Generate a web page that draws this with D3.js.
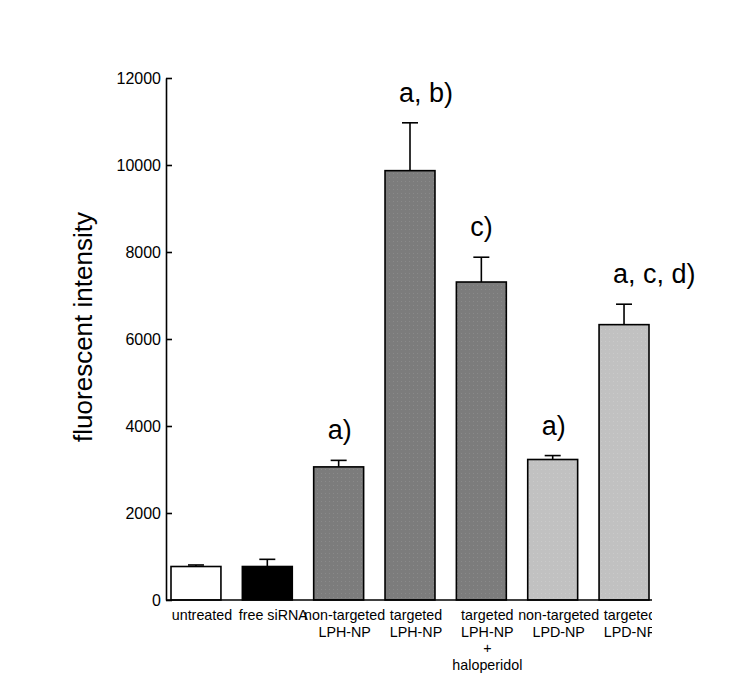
<!DOCTYPE html>
<html>
<head>
<meta charset="utf-8">
<script src="https://cdn.jsdelivr.net/npm/d3@7"></script>
<style>
  html, body { margin: 0; padding: 0; background: #fff; }
  svg { display: block; font-family: Arial, "Liberation Sans", Helvetica, sans-serif; }
</style>
</head>
<body>
<svg id="chart" width="750" height="694"></svg>
<script>
// ---- data ----
const categories = [
  "untreated", "free siRNA", "non-targeted\nLPH-NP", "targeted\nLPH-NP",
  "targeted\nLPH-NP\n+\nhaloperidol", "non-targeted\nLPD-NP", "targeted\nLPD-NP"
];
const values = [770, 770, 3060, 9870, 7310, 3230, 6330];
const errors = [35, 165, 150, 1100, 570, 90, 470];
const fills = ["#ffffff", "#000000", "#7f7f7f", "#7f7f7f", "#7f7f7f", "#c3c3c3", "#c3c3c3"];
const annotations = ["", "", "a)", "a, b)", "c)", "a)", "a, c, d)"];
const yTicks = [0, 2000, 4000, 6000, 8000, 10000, 12000];
const yTitle = "fluorescent intensity";

// ---- layout ----
const svg = d3.select("#chart");
const axisX0 = 166, axisX1 = 652, baseY = 600, topY = 78;

const x = d3.scaleBand().domain(categories).range([171, 649]).paddingInner(0.3).paddingOuter(0);
const y = d3.scaleLinear().domain([0, 12000]).range([baseY, topY]);

// dotted texture patterns
const defs = svg.append("defs");
function pattern(id, base, dot) {
  const p = defs.append("pattern").attr("id", id).attr("patternUnits", "userSpaceOnUse")
    .attr("width", 4).attr("height", 4);
  p.append("rect").attr("width", 4).attr("height", 4).attr("fill", base);
  p.append("rect").attr("x", 1).attr("y", 1).attr("width", 1).attr("height", 1).attr("fill", dot);
}
pattern("pDark", "#7c7c7c", "#8a8a8a");
pattern("pLight", "#c1c1c1", "#cacaca");
function fillFor(c) {
  if (c === "#7f7f7f") return "url(#pDark)";
  if (c === "#c3c3c3") return "url(#pLight)";
  return c;
}

const data = categories.map((c, i) => ({ c, v: values[i], e: errors[i], f: fills[i], a: annotations[i] }));

// error bars (up only)
const eg = svg.append("g").attr("stroke", "#000").attr("stroke-width", 1.6);
eg.selectAll("line.v").data(data).join("line")
  .attr("x1", d => x(d.c) + x.bandwidth() / 2).attr("x2", d => x(d.c) + x.bandwidth() / 2)
  .attr("y1", d => y(d.v)).attr("y2", d => y(d.v + d.e));
eg.selectAll("line.h").data(data).join("line")
  .attr("x1", d => x(d.c) + x.bandwidth() / 2 - 8).attr("x2", d => x(d.c) + x.bandwidth() / 2 + 8)
  .attr("y1", d => y(d.v + d.e)).attr("y2", d => y(d.v + d.e));

// bars
svg.append("g").selectAll("rect").data(data).join("rect")
  .attr("x", d => x(d.c)).attr("width", x.bandwidth())
  .attr("y", d => y(d.v)).attr("height", d => baseY - y(d.v))
  .attr("fill", d => fillFor(d.f)).attr("stroke", "#000").attr("stroke-width", 1.6);

// y axis
const yAxis = d3.axisLeft(y).tickValues(yTicks).tickSizeInner(-6).tickSizeOuter(0).tickPadding(10).tickFormat(d3.format("d"));
const gy = svg.append("g").attr("transform", `translate(${axisX0},0)`).call(yAxis);
gy.select(".domain").attr("stroke", "#000").attr("stroke-width", 1.6);
gy.selectAll(".tick line").attr("stroke", "#000").attr("stroke-width", 1.6);
gy.selectAll(".tick text").attr("font-size", 16).attr("fill", "#000")
  .attr("font-family", "Arial, 'Liberation Sans', sans-serif").attr("x", -5).attr("dy", "0.35em");

// x axis line
svg.append("line").attr("x1", axisX0).attr("x2", axisX1).attr("y1", baseY).attr("y2", baseY)
  .attr("stroke", "#000").attr("stroke-width", 1.6);

// x labels (clipped at right like the original)
defs.append("clipPath").attr("id", "xclip").append("rect")
  .attr("x", 0).attr("y", 600).attr("width", 652).attr("height", 94);
const xl = svg.append("g").attr("clip-path", "url(#xclip)");
data.forEach(d => {
  const cx = x(d.c) + x.bandwidth() / 2 + 6;
  const t = xl.append("text").attr("x", cx).attr("y", 620)
    .attr("text-anchor", "middle").attr("font-size", 14.3).attr("fill", "#000");
  d.c.split("\n").forEach((line, j) => {
    t.append("tspan").attr("x", cx).attr("dy", j === 0 ? 0 : 16.5).text(line);
  });
});

// annotations
svg.append("g").selectAll("text").data(data.filter(d => d.a)).join("text")
  .attr("x", d => x(d.c) + x.bandwidth() / 2 - 11)
  .attr("y", d => y(d.v + d.e) - 21)
  .attr("text-anchor", "start").attr("font-size", 27).attr("fill", "#000")
  .text(d => d.a);

// y title
svg.append("text").attr("transform", "translate(92,327) rotate(-90)")
  .attr("text-anchor", "middle").attr("font-size", 26).attr("fill", "#000").text(yTitle);
</script>
</body>
</html>
